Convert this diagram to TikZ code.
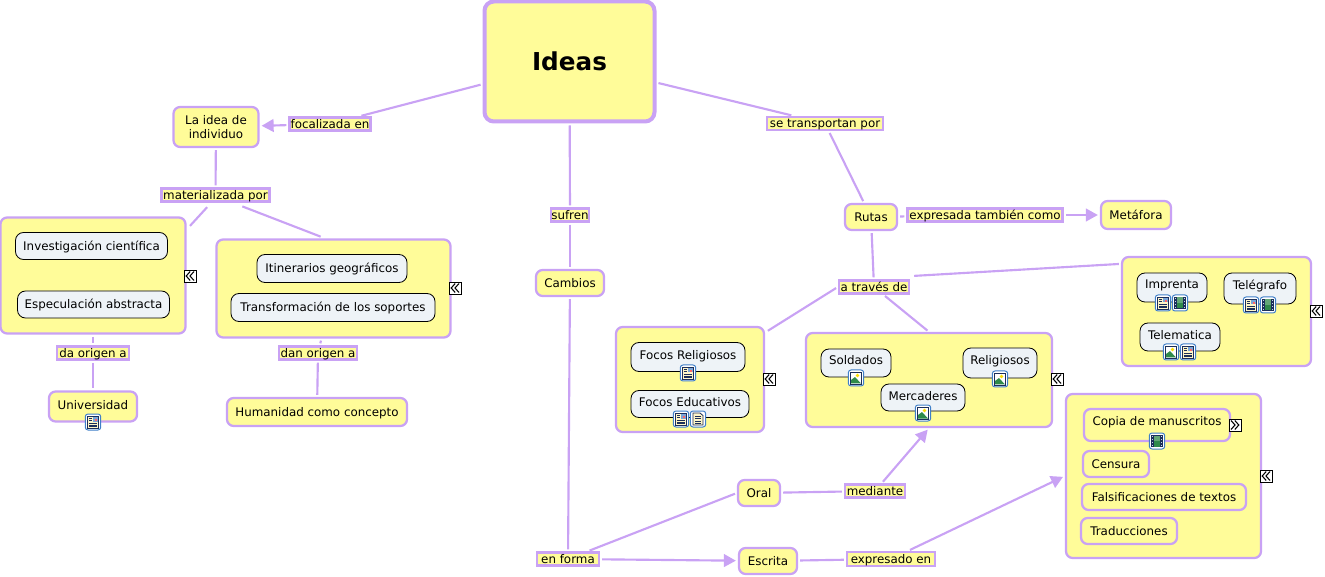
\documentclass[tikz,border=0pt]{standalone}
\usepackage{fontspec}
\setmainfont{DejaVu Sans}
\usetikzlibrary{arrows.meta, calc}

\definecolor{cmapyellow}{HTML}{FFFC99}
\definecolor{cmappurple}{HTML}{C9A2F4}
\definecolor{cmapgrey}{HTML}{EEF3F7}
\definecolor{iconblue}{HTML}{3F7FC8}
\definecolor{iconnavy}{HTML}{1C2F5A}
\definecolor{icongreen}{HTML}{2F8A4A}
\definecolor{iconpaper}{HTML}{FFF6C8}

\newcommand{\iconframe}{\draw[iconblue, fill=white, line width=0.75pt, rounded corners=2pt] (-7.7,-8) rectangle (7.7,8);}

\tikzset{
    sz/.style 2 args={minimum width=#1*0.75pt-1.5pt, minimum height=#2*0.75pt-1.5pt},
    tx/.style={font=\fontsize{8.9}{11}\selectfont, text height=7.5pt, text depth=1pt, inner sep=0pt},
    concept/.style={tx, rectangle, rounded corners=5pt, draw=cmappurple, fill=cmapyellow, line width=1.7pt},
    framebox/.style={rectangle, rounded corners=5pt, draw=cmappurple, fill=cmapyellow, line width=1.7pt},
    inneritem/.style={tx, rectangle, rounded corners=6pt, draw=black, fill=cmapgrey, line width=0.6pt},
    linklabel/.style={tx, rectangle, draw=cmappurple, fill=cmapyellow, line width=1.8pt},
    link/.style={draw=cmappurple, line width=1.6pt, shorten <=1.5pt, shorten >=1.5pt},
    arrow/.style={link, -{Triangle[length=9pt, width=9.5pt]}},
    pics/expander/.style={code={
        \draw[black, fill=white, line width=0.7pt] (-6,-6) rectangle (6,6);
        \begin{scope}[xscale=#1, line width=0.8pt]
            \draw (0.2,-4.5) -- (-3.8,0) -- (0.2,4.5);
            \draw (4,-4.5) -- (0,0) -- (4,4.5);
        \end{scope}
    }},
    pics/iconphoto/.style={code={
        \iconframe
        \draw[iconnavy, fill=white, line width=0.6pt] (-5.5,-6) rectangle (5.5,6);
        \fill[yellow!80!orange] (1.5,-2.5) circle (1.8);
        \fill[icongreen] (-5,5.5) -- (-5,2) -- (-1,-1) -- (5,5.5) -- cycle;
    }},
    pics/icontext/.style={code={
        \iconframe
        \draw[iconnavy, fill=iconpaper, line width=0.6pt] (-5,-6) -- (2,-6) -- (5,-3.5) -- (5,6) -- (-5,6) -- cycle;
        \foreach \rowy in {-3,-0.5,2,4.2} {\draw[iconnavy, line width=0.5pt] (-3,\rowy) -- (3,\rowy);}
    }},
    pics/iconpage/.style={code={
        \iconframe
        \draw[iconnavy, fill=iconpaper, line width=0.6pt] (-5.5,-6) rectangle (5.5,6);
        \fill[iconblue!70] (-0.5,-5) rectangle (4.5,-0.5);
        \fill[red!60] (1.5,-3.2) rectangle (3.5,-1);
        \foreach \rowy in {-3.5,-1.5} {\draw[iconnavy, line width=0.5pt] (-4.2,\rowy) -- (-1.2,\rowy);}
        \foreach \rowy in {1,3,4.8} {\draw[iconnavy, line width=0.5pt] (-4.2,\rowy) -- (4.2,\rowy);}
    }},
    pics/iconfilm/.style={code={
        \iconframe
        \fill[iconnavy] (-6,-6) rectangle (6,6);
        \fill[icongreen!75] (-3,-5.5) rectangle (3,-0.4);
        \fill[icongreen] (-3,0.4) rectangle (3,5.5);
        \foreach \rowy in {-4.5,-1.5,1.5,4.5} {\fill[white!70!iconblue] (-5.2,\rowy-0.6) rectangle (-3.8,\rowy+0.6);
            \fill[white!70!iconblue] (3.8,\rowy-0.6) rectangle (5.2,\rowy+0.6);}
    }}
}

\begin{document}
\begin{tikzpicture}[x=0.75pt, y=-0.75pt]
\useasboundingbox (0,0) rectangle (1325,577);

% Main concept
\node[concept, sz={172}{122}, line width=3pt, rounded corners=7pt, text height=, text depth=, font=\fontsize{18.5}{22}\selectfont\bfseries] (ideas) at (569.5,61.5) {Ideas};

% Left branch
\node[concept, sz={87}{42}, align=center, text height=, text depth=] (idea) at (216,127) {La idea de\\individuo};
\node[linklabel, sz={83}{15}] (lfoc) at (330,124) {focalizada en};
\node[linklabel, sz={110}{15}] (lmat) at (215.5,195) {materializada por};
\node[framebox, sz={187}{118}] (boxa) at (93,275.5) {};
\node[inneritem, sz={154}{29}] (inv) at (91.5,246) {Investigación científica};
\node[inneritem, sz={154}{29}] (esp) at (93.5,304.5) {Especulación abstracta};
\pic (expa) at (190,276) {expander=1};
\node[framebox, sz={236}{100}] (boxb) at (333.5,288.5) {};
\node[inneritem, sz={152}{30}] (iti) at (332,268.5) {Itinerarios geográficos};
\node[inneritem, sz={206}{30}] (tra) at (333,307.5) {Transformación de los soportes};
\pic (expb) at (455,288) {expander=1};
\node[linklabel, sz={74}{15}] (ldao) at (93,353) {da origen a};
\node[linklabel, sz={80}{15}] (ldan) at (318,353) {dan origen a};
\node[concept, sz={90}{32}, text depth=3pt] (univ) at (93,406.5) {Universidad};
\pic (iconu) at (93,422) {iconpage};
\node[concept, sz={182}{30}] (huma) at (317,412) {Humanidad como concepto};

% Middle branch
\node[linklabel, sz={40}{15}] (lsuf) at (570,215) {sufren};
\node[concept, sz={70}{28}] (camb) at (570,283) {Cambios};
\node[linklabel, sz={64}{15}] (lfor) at (568,559) {en forma};
\node[concept, sz={44}{28}] (oral) at (759,493) {Oral};
\node[concept, sz={60}{28}] (escr) at (768,561) {Escrita};
\node[linklabel, sz={62}{15}] (lmed) at (875,491) {mediante};
\node[linklabel, sz={90}{16}] (lexp) at (891,559) {expresado en};

% Right branch
\node[linklabel, sz={118}{15}] (ltra) at (825,123.5) {se transportan por};
\node[concept, sz={54}{28}] (ruta) at (871,217) {Rutas};
\node[linklabel, sz={157}{15}] (lexa) at (985,215) {expresada también como};
\node[concept, sz={72}{30}] (meta) at (1136,215) {Metáfora};
\node[linklabel, sz={72}{15}] (ltrv) at (874,287) {a través de};

% Focos
\node[framebox, sz={150}{107}] (boxf) at (690,379.5) {};
\node[inneritem, sz={116}{31}, text depth=3.5pt] (frel) at (688,357) {Focos Religiosos};
\pic (iconfa) at (688,373) {iconpage};
\node[inneritem, sz={120}{29}, text depth=3.5pt] (fedu) at (690,404) {Focos Educativos};
\pic (iconfb) at (681,419) {iconpage};
\pic (iconfc) at (698,419) {icontext};
\pic (expf) at (769,379) {expander=1};

% Soldados
\node[framebox, sz={248}{96}] (boxs) at (929,380) {};
\node[inneritem, sz={72}{30}, text depth=5pt] (sold) at (856,363) {Soldados};
\pic (iconsa) at (856,378) {iconphoto};
\node[inneritem, sz={76}{32}, text depth=6pt] (reli) at (1000,363) {Religiosos};
\pic (iconsb) at (1000,379) {iconphoto};
\node[inneritem, sz={86}{29}, text depth=3.5pt] (merc) at (923,397.5) {Mercaderes};
\pic (iconsc) at (923,413) {iconphoto};
\pic (exps) at (1057,379) {expander=1};

% Imprenta
\node[framebox, sz={191}{111}] (boxi) at (1216.5,311.5) {};
\node[inneritem, sz={72}{31}, text depth=6pt] (impr) at (1172,287.5) {Imprenta};
\pic (iconia) at (1163,303) {iconpage};
\pic (iconib) at (1180,303) {iconfilm};
\node[inneritem, sz={74}{33}, text depth=6pt] (tele) at (1260,288.5) {Telégrafo};
\pic (iconic) at (1251,305) {iconpage};
\pic (iconid) at (1268,305) {iconfilm};
\node[inneritem, sz={82}{30}, text depth=3.5pt] (telm) at (1180,337) {Telematica};
\pic (iconie) at (1171,352) {iconphoto};
\pic (iconif) at (1188,352) {iconpage};
\pic (expi) at (1316,311) {expander=1};

% Copia
\node[framebox, sz={197}{166}] (boxc) at (1163.5,476) {};
\node[concept, sz={148}{34}, text depth=6pt] (copi) at (1157,425) {Copia de manuscritos};
\pic (iconca) at (1157,441) {iconfilm};
\pic (expc) at (1235,425) {expander=-1};
\node[concept, sz={68}{28}] (cens) at (1116,464) {Censura};
\node[concept, sz={166}{28}] (fals) at (1164,497) {Falsificaciones de textos};
\node[concept, sz={98}{28}] (trad) at (1129,531) {Traducciones};
\pic (expd) at (1266,476) {expander=1};

% Links
\draw[link] (ideas) -- (lfoc);
\draw[arrow] (lfoc) -- (idea);
\draw[link] (idea) -- (lmat);
\draw[link] ($(lmat.south)+(-7,3)$) -- ($(boxa.north east)+(2,11)$);
\draw[link] ($(lmat.south)+(25,3)$) -- ($(boxb.north)+(-11,-1)$);
\draw[link] (boxa) -- (ldao);
\draw[link] (ldao) -- (univ);
\draw[link] (boxb) -- (ldan);
\draw[link] (ldan) -- (huma);

\draw[link] (ideas) -- (lsuf);
\draw[link] (lsuf) -- (camb);
\draw[link] (camb) -- (lfor);
\draw[link] (lfor) -- (oral.west);
\draw[arrow] (lfor) -- (escr);
\draw[link] (oral) -- (lmed);
\draw[arrow] (lmed) -- (boxs.south);
\draw[link] (escr) -- (lexp);
\draw[arrow] (lexp) -- (boxc.west);

\draw[link] (ideas) -- (ltra);
\draw[link] (ltra) -- (ruta);
\draw[link] (ruta) -- (lexa);
\draw[arrow] (lexa) -- (meta);
\draw[link] (ruta) -- (ltrv);
\draw[link] (ltrv.west) -- ($(boxf.north east)+(1,6)$);
\draw[link] (ltrv) -- (boxs.north);
\draw[link] ($(ltrv.east)+(2,-11)$) -- ($(boxi.north west)+(0,8)$);

\end{tikzpicture}
\end{document}
